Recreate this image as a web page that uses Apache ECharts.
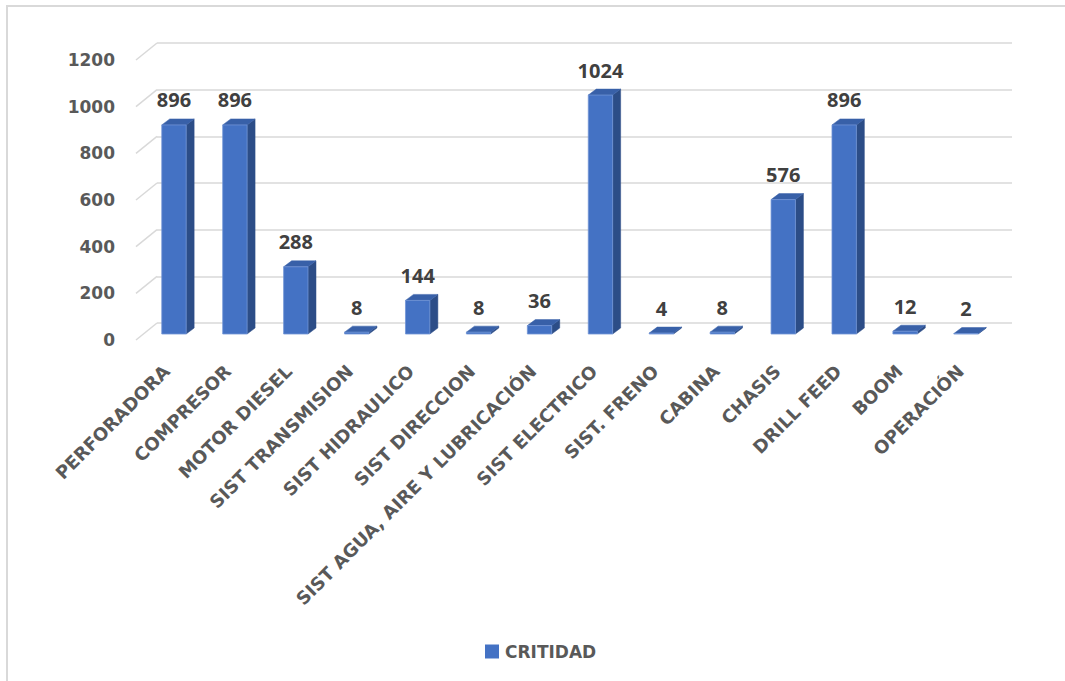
<!DOCTYPE html>
<html>
<head>
<meta charset="utf-8">
<script src="https://cdn.jsdelivr.net/npm/echarts@6/dist/echarts.min.js"></script>
<style>
html,body{margin:0;padding:0;background:#fff;}
#c{width:1065px;height:681px;}
</style>
</head>
<body>
<div id="c"></div>
<script>
const categories = ['PERFORADORA','COMPRESOR','MOTOR DIESEL','SIST TRANSMISION','SIST HIDRAULICO','SIST DIRECCION','SIST AGUA, AIRE Y LUBRICACIÓN','SIST ELECTRICO','SIST. FRENO','CABINA','CHASIS','DRILL FEED','BOOM','OPERACIÓN'];
const values = [896, 896, 288, 8, 144, 8, 36, 1024, 4, 8, 576, 896, 12, 2];
const yTicks = [0, 200, 400, 600, 800, 1000, 1200];
const seriesName = 'CRITIDAD';

const FONT = 'DejaVu Sans';
const LABEL_FONT = 'Open Sans';
const chart = echarts.init(document.getElementById('c'), null, {renderer: 'svg'});

const option = {
  backgroundColor: '#ffffff',
  animation: false,
  graphic: [{
    type: 'rect', shape: {x: 7, y: 6, width: 1200, height: 800},
    style: {fill: 'none', stroke: '#d9d9d9', lineWidth: 2}, silent: true, z: -10
  }],
  legend: {
    left: 480, top: 638, itemWidth: 14, itemHeight: 14, itemGap: 10,
    data: [{name: seriesName, icon: 'rect', itemStyle: {color: '#4472C4'}}],
    textStyle: {fontFamily: FONT, fontWeight: 'bold', fontSize: 17, color: '#595959', lineHeight: 16, padding: [0,0,0,1]}
  },
  grid: [
    {left: 136, right: 74, top: 60, height: 280},
    {left: 157, right: 53, top: 43, height: 280},
    {left: 143.5, width: 853, top: 54, height: 280}
  ],
  xAxis: [
    {type: 'category', gridIndex: 0, data: categories,
     axisLine: {show: false}, axisTick: {show: false},
     axisLabel: {interval: 0, rotate: 45, margin: 28, fontFamily: FONT, fontWeight: 'bold', fontSize: 18, color: '#595959'}},
    {type: 'value', gridIndex: 1, show: false, min: 0, max: 1},
    {type: 'category', gridIndex: 2, data: categories, show: false}
  ],
  yAxis: [
    {type: 'value', gridIndex: 0, min: 0, max: 1200, interval: 200,
     axisLine: {show: false}, axisTick: {show: false}, splitLine: {show: false},
     axisLabel: {margin: 21, fontFamily: FONT, fontWeight: 'bold', fontSize: 17, color: '#595959',
                 formatter: function (v) { return String(v); }}},
    {type: 'value', gridIndex: 1, min: 0, max: 1200, interval: 200,
     axisLine: {show: false}, axisTick: {show: false}, axisLabel: {show: false},
     splitLine: {show: true, lineStyle: {color: '#d9d9d9', width: 1.5}}},
    {type: 'value', gridIndex: 2, min: 0, max: 1200, interval: 200, show: false, splitLine: {show: false}}
  ],
  series: [
    {
      type: 'custom', name: 'wallEdge', xAxisIndex: 0, yAxisIndex: 0, silent: true, z: 1,
      data: yTicks.map(t => [0, t]),
      renderItem: function (params, api) {
        const p = api.coord([0, api.value(1)]);
        const x0 = params.coordSys.x;
        return {type: 'line', shape: {x1: x0, y1: p[1], x2: x0 + 21, y2: p[1] - 17},
                style: {stroke: '#d9d9d9', lineWidth: 1.5}};
      }
    },
    {
      type: 'custom', name: seriesName, xAxisIndex: 2, yAxisIndex: 2, z: 5,
      itemStyle: {color: '#4472C4'},
      data: values.map((v, i) => [i, v]),
      renderItem: function (params, api) {
        const i = api.value(0), v = api.value(1);
        const base = api.coord([i, 0]);
        const top = api.coord([i, v]);
        const bw = api.size([1, 0])[0] * 0.4;
        const dx = 8, dy = -6;
        const x1 = base[0] - bw / 2, x2 = base[0] + bw / 2;
        const yb = base[1], yt = top[1];
        return {
          type: 'group',
          children: [
            {type: 'polygon', shape: {points: [[x2, yt], [x2 + dx, yt + dy], [x2 + dx, yb + dy], [x2, yb]]},
             style: {fill: '#2C4D87', stroke: '#2C4D87', lineWidth: 0.5}},
            {type: 'polygon', shape: {points: [[x1, yt], [x2, yt], [x2 + dx, yt + dy], [x1 + dx, yt + dy]]},
             style: {fill: '#3860A8', stroke: '#3860A8', lineWidth: 0.5}},
            {type: 'rect', shape: {x: x1, y: yt, width: bw, height: yb - yt},
             style: {fill: '#4472C4', stroke: '#7194d6', lineWidth: 0.8}},
            {type: 'text', x: base[0], y: yt - 25,
             style: {text: String(v), align: 'center', verticalAlign: 'middle',
                     font: 'bold 20px "' + LABEL_FONT + '"', fill: '#404040'}}
          ]
        };
      }
    }
  ]
};
chart.setOption(option);
</script>
</body>
</html>
